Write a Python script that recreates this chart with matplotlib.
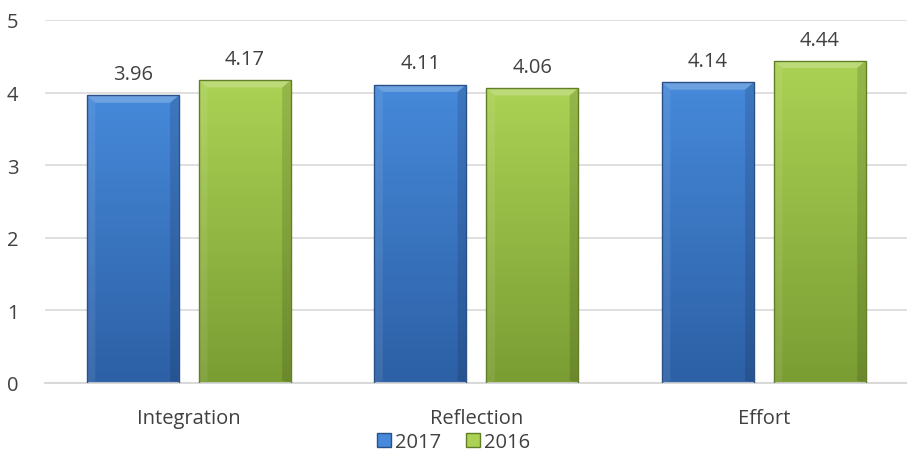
import matplotlib
matplotlib.use('Agg')
from matplotlib import pyplot as plt
from matplotlib.patches import Polygon, Patch
from matplotlib.colors import LinearSegmentedColormap
import numpy as np

categories = ['Integration', 'Reflection', 'Effort']
series_names = ['2017', '2016']
values_2017 = [3.96, 4.11, 4.14]
values_2016 = [4.17, 4.06, 4.44]

plt.rcParams['font.family'] = ['Open Sans', 'DejaVu Sans']
TEXT = '#404040'
FS = 14.5

# top color, bottom color, edge color
styles = {
    '2017': ('#4689da', '#2d60a5', '#2a5088'),
    '2016': ('#abd254', '#7a9d33', '#627f28'),
}

fig = plt.figure(figsize=(9.07, 4.77), dpi=100)
ax = fig.add_axes([0.0496, 0.195, 0.951, 0.761])

x = np.arange(len(categories))
width = 0.32
offset = 0.195


def draw_bars(xs, vals, name):
    top, bottom, edge = styles[name]
    cmap = LinearSegmentedColormap.from_list(name, [bottom, top])
    bars = ax.bar(xs, vals, width, color='none', edgecolor=edge, linewidth=1.0, zorder=3)
    for b in bars:
        x0, w, h = b.get_x(), b.get_width(), b.get_height()
        grad = np.linspace(0, 1, 256).reshape(-1, 1)
        im = ax.imshow(grad, extent=[x0, x0 + w, 0, h], origin='lower', cmap=cmap,
                       aspect='auto', zorder=2)
        im.set_clip_path(b)
        # bevel at top and sides
        bh = 0.1
        bw = 0.03
        ax.add_patch(Polygon([(x0, h), (x0 + w, h), (x0 + w - bw, h - bh), (x0 + bw, h - bh)],
                             closed=True, facecolor='white', alpha=0.22, edgecolor='none', zorder=2.5))
        ax.add_patch(Polygon([(x0, 0), (x0 + bw, bh * 0.3), (x0 + bw, h - bh), (x0, h)],
                             closed=True, facecolor='white', alpha=0.08, edgecolor='none', zorder=2.5))
        ax.add_patch(Polygon([(x0 + w, 0), (x0 + w - bw, bh * 0.3), (x0 + w - bw, h - bh), (x0 + w, h)],
                             closed=True, facecolor='black', alpha=0.12, edgecolor='none', zorder=2.5))
        ax.annotate(f'{h:.2f}', (x0 + w / 2, h), xytext=(0, 8), textcoords='offset points',
                    ha='center', va='bottom', fontsize=FS, color=TEXT)
    return bars


draw_bars(x - offset, values_2017, '2017')
draw_bars(x + offset, values_2016, '2016')

ax.set_xlim(-0.5, len(categories) - 0.5)
ax.set_ylim(0, 5)
ax.set_yticks(range(6))
ax.set_xticks(x)
ax.set_xticklabels(categories)
ax.tick_params(axis='both', length=0, labelsize=FS, labelcolor=TEXT)
ax.tick_params(axis='y', pad=19)
ax.tick_params(axis='x', pad=18)
ax.grid(axis='y', color='#d9d9d9', linewidth=1.2, zorder=0)
ax.set_axisbelow(True)
for s in ['top', 'right', 'left']:
    ax.spines[s].set_visible(False)
ax.spines['bottom'].set_color('#d9d9d9')
ax.spines['bottom'].set_linewidth(1.5)

handles = [Patch(facecolor=styles[n][0], edgecolor=styles[n][2], label=n) for n in series_names]
fig.legend(handles=handles, loc='center', bbox_to_anchor=(0.5, 0.072), ncol=2, frameon=False,
           fontsize=FS, handlelength=0.7, handleheight=0.7, handletextpad=0.2, columnspacing=1.2,
           labelcolor=TEXT)

fig.savefig('out.png', dpi=100)
